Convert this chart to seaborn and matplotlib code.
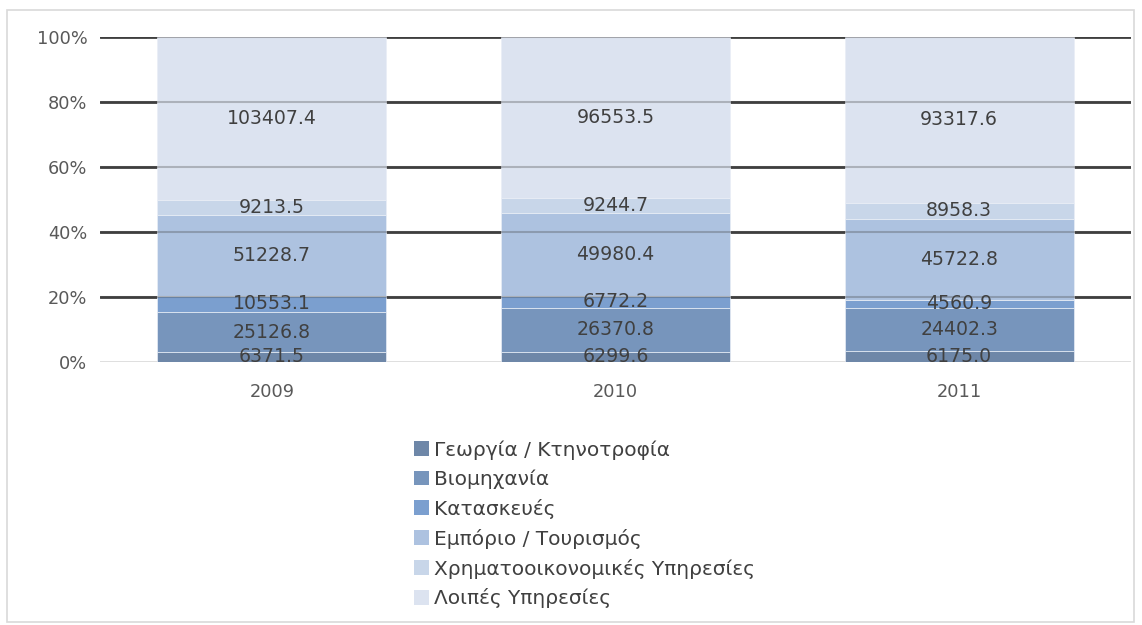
import matplotlib
matplotlib.use("Agg")

import matplotlib.pyplot as plt
import matplotlib.patches as mpatches
import pandas as pd
import seaborn as sns

years = ["2009", "2010", "2011"]
sectors = [
    "Γεωργία / Κτηνοτροφία",
    "Βιομηχανία",
    "Κατασκευές",
    "Εμπόριο / Τουρισμός",
    "Χρηματοοικονομικές Υπηρεσίες",
    "Λοιπές Υπηρεσίες",
]
agriculture = [6371.5, 6299.6, 6175.0]
industry = [25126.8, 26370.8, 24402.3]
construction = [10553.1, 6772.2, 4560.9]
trade = [51228.7, 49980.4, 45722.8]
finance = [9213.5, 9244.7, 8958.3]
other = [103407.4, 96553.5, 93317.6]

colors = ["#6e87a8", "#7795bc", "#7b9fcf", "#adc2e0", "#c8d6e9", "#dce3f0"]

sns.set_style("white")
plt.rcParams["font.family"] = ["DejaVu Sans"]

series = [agriculture, industry, construction, trade, finance, other]
df = pd.DataFrame({name: vals for name, vals in zip(sectors, series)}, index=years)
totals = df.sum(axis=1)
share = df.div(totals, axis=0) * 100

fig = plt.figure(figsize=(11.42, 6.25), dpi=100)
ax = fig.add_axes([100 / 1142, 1 - 362 / 625, 1031 / 1142, 325 / 625])

# dark grid behind the bars, light zero line
for g in [20, 40, 60, 80, 100]:
    ax.axhline(g, color="#3f3f3f", lw=2, zorder=0)
ax.axhline(0, color="#d9d9d9", lw=1.2, zorder=0)

bottom = pd.Series(0.0, index=years)
for name, col in zip(sectors, colors):
    part = pd.DataFrame({"year": years, "pct": share[name].values})
    sns.barplot(data=part, x="year", y="pct", order=years, color=col,
                width=0.667, bottom=bottom.values, ax=ax, zorder=2,
                edgecolor="#e9eef6", linewidth=0.5, saturation=1)
    for i, y in enumerate(years):
        mid = bottom[y] + share.loc[y, name] / 2
        ax.text(i, mid, f"{df.loc[y, name]:.1f}", ha="center", va="center",
                fontsize=13.6, color="#404040", zorder=4)
    bottom = bottom + share[name]

# faint grid showing through the bars
for g in [20, 40, 60, 80, 100]:
    ax.axhline(g, color="#3f3f3f", lw=1.5, alpha=0.3, zorder=3)

ax.set_xlim(-0.5, 2.5)
ax.set_ylim(0, 100)
ax.set_yticks([0, 20, 40, 60, 80, 100])
ax.set_yticklabels([f"{t}%" for t in [0, 20, 40, 60, 80, 100]])
ax.set_xlabel("")
ax.set_ylabel("")
ax.tick_params(axis="both", length=0, labelsize=12.8, colors="#595959")
ax.tick_params(axis="y", pad=9)
ax.tick_params(axis="x", pad=15)
for s in ax.spines.values():
    s.set_visible(False)

handles = [mpatches.Patch(facecolor=c, edgecolor="none") for c in colors]
fig.legend(handles, sectors, loc="upper left",
           bbox_to_anchor=(406 / 1142, 1 - 432 / 625), frameon=False,
           fontsize=14.5, handlelength=0.75, handleheight=0.75,
           handletextpad=0.25, labelspacing=0.49, labelcolor="#404040",
           borderaxespad=0)

fig.patches.append(mpatches.Rectangle((7 / 1142, 3 / 625), 1127 / 1142, 612 / 625,
                                      transform=fig.transFigure, fill=False,
                                      edgecolor="#d9d9d9", lw=1.2))

fig.savefig("out.png", dpi=100)
plt.close(fig)
